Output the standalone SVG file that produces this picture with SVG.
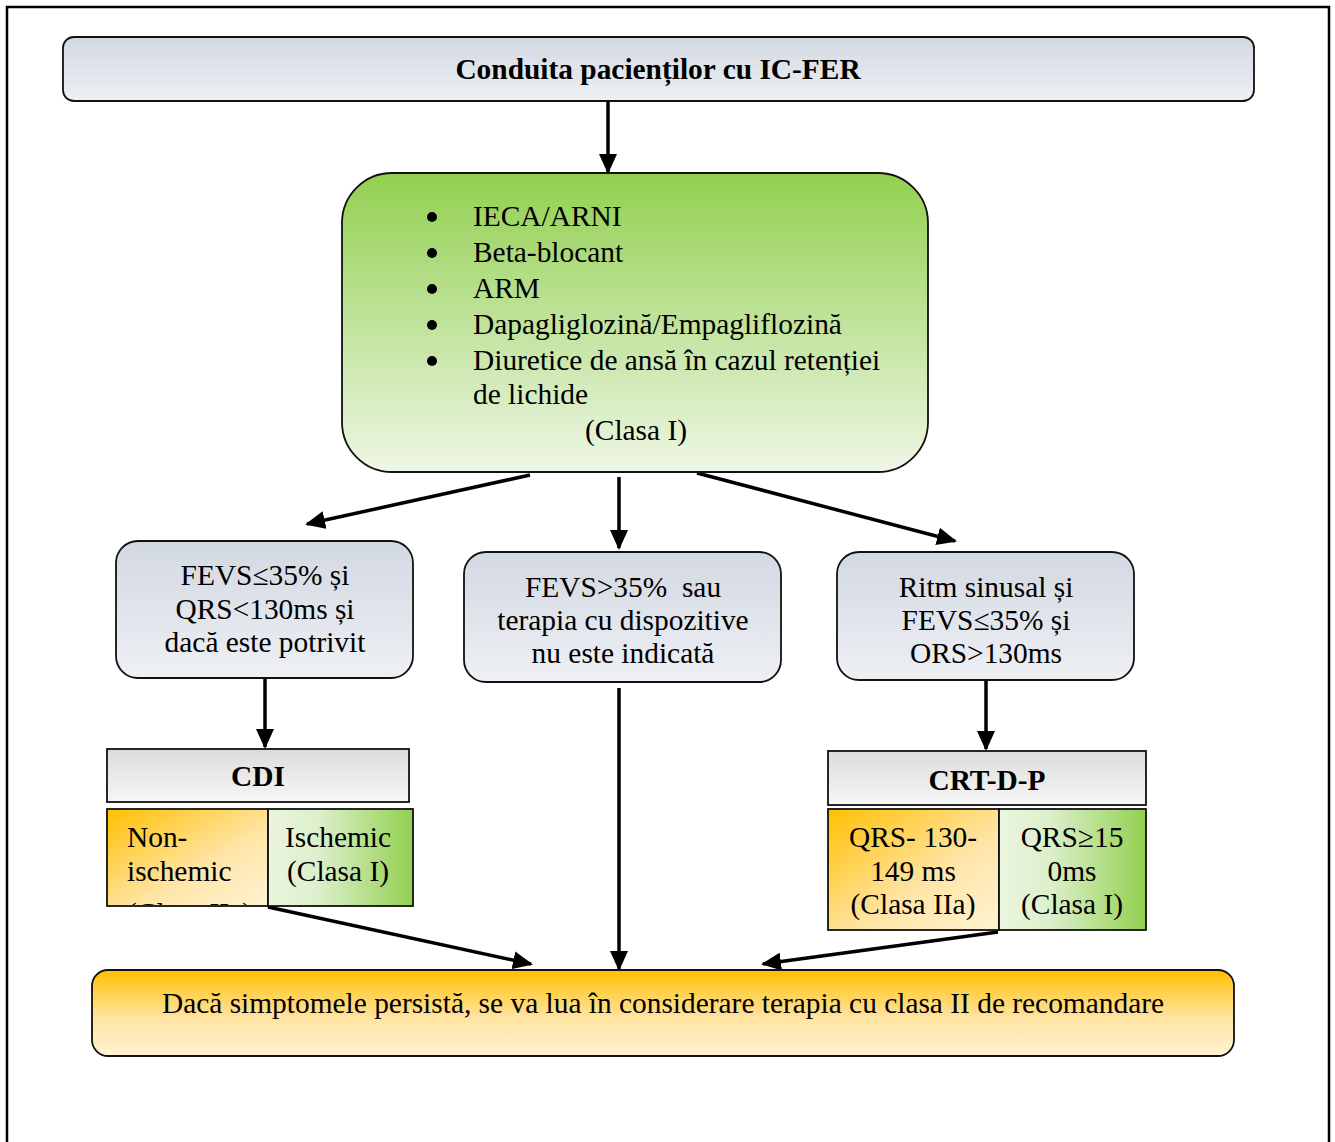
<svg xmlns="http://www.w3.org/2000/svg" width="1335" height="1142" viewBox="0 0 1335 1142">
<style>
text{font-family:"Liberation Serif","Times New Roman",serif;font-size:29.4px;fill:#000}
.b{font-weight:bold}
.c{text-anchor:middle}
.box{stroke:#111;stroke-width:1.8}
.edge{stroke:#000;stroke-width:3.5;fill:none;marker-end:url(#ah)}
</style>
<defs>
<linearGradient id="gBlue" x1="0" y1="0" x2="0" y2="1"><stop offset="0" stop-color="#d2d8e2"/><stop offset="1" stop-color="#eef0f4"/></linearGradient>
<linearGradient id="gGreen" x1="0" y1="0" x2="0" y2="1"><stop offset="0" stop-color="#92d050"/><stop offset="1" stop-color="#eef6e6"/></linearGradient>
<linearGradient id="gGray" x1="0" y1="0" x2="0" y2="1"><stop offset="0" stop-color="#dcdcdc"/><stop offset="1" stop-color="#f6f6f6"/></linearGradient>
<linearGradient id="gOrangeD" x1="0" y1="0" x2="1" y2="1"><stop offset="0" stop-color="#ffc000"/><stop offset="0.6" stop-color="#ffe5a8"/><stop offset="1" stop-color="#fff3d2"/></linearGradient>
<linearGradient id="gGreenH" x1="0" y1="0" x2="1" y2="0"><stop offset="0" stop-color="#ebf5df"/><stop offset="0.35" stop-color="#dcefcb"/><stop offset="1" stop-color="#92d050"/></linearGradient>
<linearGradient id="gOrangeV" x1="0" y1="0" x2="0" y2="1"><stop offset="0" stop-color="#ffc000"/><stop offset="0.55" stop-color="#ffe3a0"/><stop offset="1" stop-color="#fff3d2"/></linearGradient>
<clipPath id="clipNon"><rect x="107" y="809" width="161" height="96"/></clipPath>
<marker id="ah" markerUnits="userSpaceOnUse" markerWidth="20" markerHeight="18" refX="18" refY="9" orient="auto"><path d="M0,0 L20,9 L0,18 Z" fill="#000"/></marker>
</defs>
<rect x="7" y="7" width="1322" height="1150" fill="#fff" stroke="#000" stroke-width="2.5"/>
<g id="connectors">
<line class="edge" x1="530" y1="475" x2="307" y2="524"/>
<line class="edge" x1="608" y1="101" x2="608" y2="172"/>
<line class="edge" x1="619" y1="477" x2="619" y2="548"/>
<line class="edge" x1="697" y1="473" x2="955" y2="541"/>
<line class="edge" x1="265" y1="678" x2="265" y2="747"/>
<line class="edge" x1="986" y1="680" x2="986" y2="749"/>
<line class="edge" x1="619" y1="688" x2="619" y2="969"/>
<line class="edge" x1="268" y1="907" x2="531" y2="964"/>
<line class="edge" x1="998" y1="932" x2="763" y2="964"/>
</g>
<g id="title">
<rect class="box" x="63" y="37" width="1191" height="64" rx="11" fill="url(#gBlue)"/>
<text class="b c" x="658" y="79">Conduita pacienților cu IC-FER</text>
</g>
<g id="therapy">
<rect class="box" x="342" y="173" width="586" height="299" rx="50" fill="url(#gGreen)" stroke-width="2"/>
<g fill="#000">
<circle cx="432" cy="217" r="5"/>
<circle cx="432" cy="253" r="5"/>
<circle cx="432" cy="289" r="5"/>
<circle cx="432" cy="325" r="5"/>
<circle cx="432" cy="361" r="5"/>
</g>
<text x="473" y="226">IECA/ARNI</text>
<text x="473" y="262">Beta-blocant</text>
<text x="473" y="298">ARM</text>
<text x="473" y="334">Dapagliglozină/Empagliflozină</text>
<text x="473" y="370">Diuretice de ansă în cazul retenției</text>
<text x="473" y="404">de lichide</text>
<text class="c" x="636" y="440">(Clasa I)</text>
</g>
<g id="left-cond">
<rect class="box" x="116" y="541" width="297" height="137" rx="22" fill="url(#gBlue)"/>
<text class="c" x="265" y="585">FEVS≤35% și</text>
<text class="c" x="265" y="619">QRS&lt;130ms și</text>
<text class="c" x="265" y="652">dacă este potrivit</text>
</g>
<g id="mid-cond">
<rect class="box" x="464" y="552" width="317" height="130" rx="22" fill="url(#gBlue)"/>
<text class="c" x="623" y="597" xml:space="preserve">FEVS&gt;35%  sau</text>
<text class="c" x="623" y="630">terapia cu dispozitive</text>
<text class="c" x="623" y="663">nu este indicată</text>
</g>
<g id="right-cond">
<rect class="box" x="837" y="552" width="297" height="128" rx="22" fill="url(#gBlue)"/>
<text class="c" x="986" y="597">Ritm sinusal și</text>
<text class="c" x="986" y="630">FEVS≤35% și</text>
<text class="c" x="986" y="663">ORS&gt;130ms</text>
</g>
<g id="cdi">
<rect class="box" x="107" y="749" width="302" height="53" fill="url(#gGray)"/>
<text class="b c" x="258" y="786">CDI</text>
</g>
<g id="cdi-nonischemic">
<rect class="box" x="107" y="809" width="161" height="97" fill="url(#gOrangeD)"/>
<g clip-path="url(#clipNon)">
<text x="127" y="847">Non-</text>
<text x="127" y="881">ischemic</text>
<text x="127" y="923">(Clasa IIa)</text>
</g>
</g>
<g id="cdi-ischemic">
<rect class="box" x="268" y="809" width="145" height="97" fill="url(#gGreenH)"/>
<text class="c" x="338" y="847">Ischemic</text>
<text class="c" x="338" y="881">(Clasa I)</text>
</g>
<g id="crt">
<rect class="box" x="828" y="751" width="318" height="54" fill="url(#gGray)"/>
<text class="b c" x="987" y="790">CRT-D-P</text>
</g>
<g id="crt-qrs130">
<rect class="box" x="828" y="809" width="171" height="121" fill="url(#gOrangeD)"/>
<text class="c" x="913" y="847">QRS- 130-</text>
<text class="c" x="913" y="881">149 ms</text>
<text class="c" x="913" y="914">(Clasa IIa)</text>
</g>
<g id="crt-qrs150">
<rect class="box" x="999" y="809" width="147" height="121" fill="url(#gGreenH)"/>
<text class="c" x="1072" y="847">QRS≥15</text>
<text class="c" x="1072" y="881">0ms</text>
<text class="c" x="1072" y="914">(Clasa I)</text>
</g>
<g id="persist">
<rect class="box" x="92" y="970" width="1142" height="86" rx="16" fill="url(#gOrangeV)" stroke-width="2"/>
<text class="c" x="663" y="1013">Dacă simptomele persistă, se va lua în considerare terapia cu clasa II de recomandare</text>
</g>
</svg>
